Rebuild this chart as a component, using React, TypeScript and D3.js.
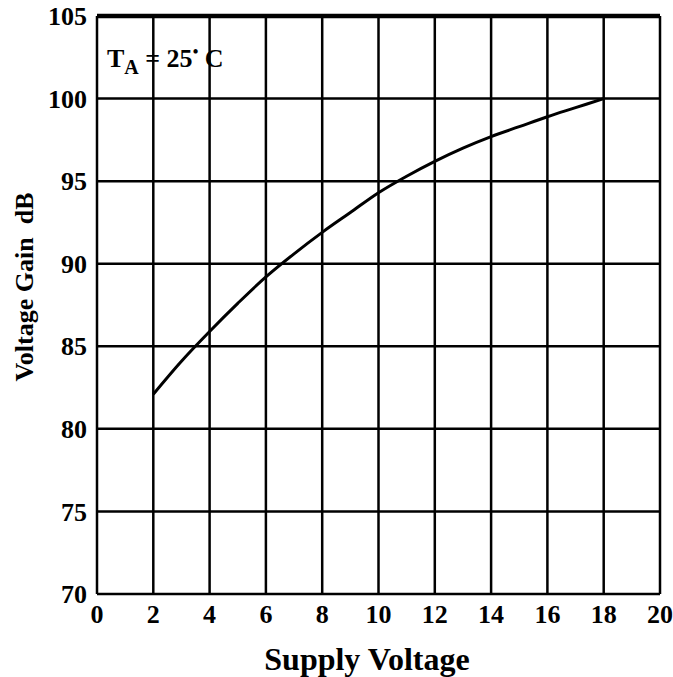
import React from 'react';
import * as d3 from 'd3';

// curve
const supplyVolts = [2, 3, 4, 5, 6, 7, 8, 9, 10, 11, 12, 13, 14, 15, 16, 17, 18];
const gainDb = [82.1, 84.1, 85.9, 87.6, 89.2, 90.6, 91.9, 93.1, 94.3, 95.3, 96.2, 97.0, 97.7, 98.3, 98.9, 99.45, 100];
const xTicks = [0, 2, 4, 6, 8, 10, 12, 14, 16, 18, 20];
const yTicks = [70, 75, 80, 85, 90, 95, 100, 105];

const W = 673, H = 677;
const font = 'Liberation Serif';

export default function App() {
  const left = 97, right = 660, top = 16, bottom = 594;
  const x = d3.scaleLinear().domain([0, 20]).range([left, right]);
  const y = d3.scaleLinear().domain([70, 105]).range([bottom, top]);

  const line = d3.line<number>()
    .x((d, i) => x(supplyVolts[i]))
    .y((d) => y(d))
    .curve(d3.curveCatmullRom);

  return (
    <svg width={W} height={H} style={{ position: 'absolute', left: 0, top: 0, background: '#fff' }}>
      <g stroke="#000" strokeWidth={2.5}>
        {xTicks.map((t) => (
          <line key={'vx' + t} x1={x(t)} x2={x(t)} y1={top} y2={bottom} />
        ))}
        {yTicks.map((t) => (
          <line key={'hy' + t} x1={left} x2={right} y1={y(t)} y2={y(t)} strokeWidth={t === 105 ? 4.5 : 2.5} />
        ))}
      </g>
      <path d={line(gainDb) || ''} fill="none" stroke="#000" strokeWidth={3} />

      <g fontFamily={font} fontWeight="bold" fontSize={26} fill="#000">
        {yTicks.map((t) => (
          <text key={'yl' + t} x={left - 10} y={y(t)} dy="0.35em" textAnchor="end">{t}</text>
        ))}
        {xTicks.map((t) => (
          <text key={'xl' + t} x={x(t)} y={623} textAnchor="middle">{t}</text>
        ))}
        <text transform={`translate(33,287) rotate(-90)`} textAnchor="middle" style={{ whiteSpace: 'pre' }}>Voltage Gain  dB</text>
        <text x={367} y={670} textAnchor="middle" fontSize={32}>Supply Voltage</text>
        <text x={107} y={67}>
          T<tspan fontSize={20} dy={7}>A</tspan><tspan dy={-7}> = 25</tspan><tspan fontSize={16} dy={-10}>•</tspan><tspan dy={10}> C</tspan>
        </text>
      </g>
    </svg>
  );
}
